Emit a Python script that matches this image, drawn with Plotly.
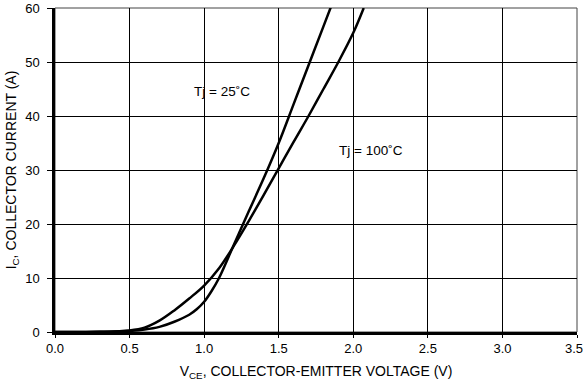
import plotly.graph_objects as go

# Tj = 25 C curve
v25 = [0.0, 0.3, 0.5, 0.6, 0.7, 0.8, 0.9, 0.95, 1.0, 1.05, 1.1, 1.2, 1.3, 1.4, 1.5, 1.6, 1.7, 1.8, 1.85]
i25 = [0.0, 0.03, 0.2, 0.45, 0.95, 1.9, 3.2, 4.2, 5.6, 7.6, 10.0, 16.2, 22.4, 28.5, 35.0, 42.2, 49.4, 56.6, 60.2]

# Tj = 100 C curve
v100 = [0.0, 0.3, 0.5, 0.6, 0.7, 0.8, 0.9, 1.0, 1.1, 1.2, 1.3, 1.4, 1.5, 1.6, 1.7, 1.8, 1.9, 2.0, 2.07]
i100 = [0.0, 0.05, 0.3, 0.8, 2.1, 4.0, 6.2, 8.6, 11.8, 16.0, 20.6, 25.4, 30.3, 35.2, 40.0, 45.0, 50.0, 55.4, 60.0]

x_ticks = [0.0, 0.5, 1.0, 1.5, 2.0, 2.5, 3.0, 3.5]
x_tick_text = ["0.0", "0.5", "1.0", "1.5", "2.0", "2.5", "3.0", ""]
last_x_label = "3.5"
y_ticks = [0, 10, 20, 30, 40, 50, 60]

labels = ["Tj = 25˚C", "Tj = 100˚C"]
label_x = [1.117, 2.122]
label_y = [44.5, 33.7]

FONT = "Liberation Sans, Arial, sans-serif"

fig = go.Figure()
line_style = dict(color="black", width=2.5, shape="spline", smoothing=1.0)
fig.add_trace(go.Scatter(x=v25, y=i25, mode="lines", line=line_style, showlegend=False))
fig.add_trace(go.Scatter(x=v100, y=i100, mode="lines", line=line_style, showlegend=False))

for t, xx, yy in zip(labels, label_x, label_y):
    fig.add_annotation(x=xx, y=yy, text=t, showarrow=False, font=dict(family=FONT, size=13.5, color="black"))

# last x tick label shifted inside the page, as in the reference
fig.add_annotation(x=x_ticks[-1], xref="x", y=0, yref="paper", yanchor="top", xanchor="center",
                   xshift=-3, yshift=-7, text=last_x_label, showarrow=False,
                   font=dict(family=FONT, size=13, color="black"))

fig.add_shape(type="rect", xref="paper", yref="paper", x0=0, y0=0, x1=1, y1=1,
              line=dict(color="#444444", width=1), layer="below")

fig.update_layout(
    width=585, height=382,
    margin=dict(l=55, r=8, t=8, b=49.5, autoexpand=False),
    paper_bgcolor="white", plot_bgcolor="white",
    font=dict(family=FONT, size=13, color="black"),
    xaxis=dict(range=[0, 3.5], tickvals=x_ticks, ticktext=x_tick_text,
               showgrid=True, gridcolor="black", gridwidth=1,
               showline=True, linecolor="black", linewidth=2.5,
               ticks="outside", ticklen=3, tickcolor="black",
               ticklabelstandoff=0, zeroline=False, automargin=False,
               title=dict(text="V<sub>CE</sub>, COLLECTOR-EMITTER VOLTAGE (V)", standoff=11,
                          font=dict(size=14))),
    yaxis=dict(range=[0, 60], tickvals=y_ticks,
               showgrid=True, gridcolor="black", gridwidth=1,
               showline=True, linecolor="black", linewidth=2.5,
               ticks="outside", ticklen=5, tickcolor="black",
               ticklabelstandoff=5, zeroline=False, automargin=False,
               title=dict(text="I<sub>C</sub>, COLLECTOR CURRENT (A)", standoff=6,
                          font=dict(size=14))),
)

fig.write_html("out.html")
